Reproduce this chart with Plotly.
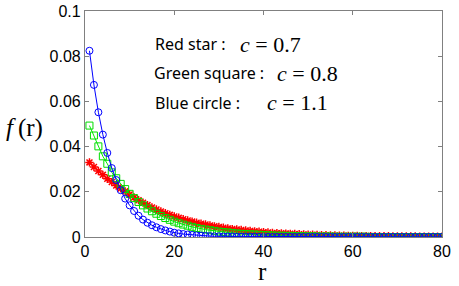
import plotly.graph_objects as go

r = list(range(1, 81))

red_star = [0.0330, 0.0310, 0.0292, 0.0275, 0.0258, 0.0243, 0.0228, 0.0215, 0.0202, 0.0188,
            0.0175, 0.0163, 0.0152, 0.0141, 0.0131, 0.0122, 0.0113, 0.0105, 0.0098, 0.0091,
            0.0085, 0.0079, 0.0073, 0.0068, 0.0063, 0.0059, 0.0055, 0.0051, 0.0047, 0.0044,
            0.0041, 0.0038, 0.0035, 0.0033, 0.0031, 0.0029, 0.0027, 0.0025, 0.0023, 0.0021,
            0.0020, 0.0018, 0.0017, 0.0016, 0.0015, 0.0014, 0.0013, 0.0012, 0.0011, 0.0010,
            0.0010, 0.0009, 0.0008, 0.0008, 0.0007, 0.0007, 0.0006, 0.0006, 0.0005, 0.0005,
            0.0005, 0.0004, 0.0004, 0.0004, 0.0003, 0.0003, 0.0003, 0.0003, 0.0002, 0.0002,
            0.0002, 0.0002, 0.0002, 0.0002, 0.0001, 0.0001, 0.0001, 0.0001, 0.0001, 0.0001]

green_square = [0.0493, 0.0449, 0.0401, 0.0357, 0.0324, 0.0286, 0.0260, 0.0235, 0.0212, 0.0191,
                0.0172, 0.0155, 0.0140, 0.0126, 0.0114, 0.0103, 0.0093, 0.0084, 0.0076, 0.0068,
                0.0061, 0.0055, 0.0050, 0.0045, 0.0040, 0.0036, 0.0033, 0.0030, 0.0027, 0.0024,
                0.0022, 0.0020, 0.0018, 0.0016, 0.0014, 0.0013, 0.0012, 0.0011, 0.0010, 0.0009,
                0.0008, 0.0007, 0.0006, 0.0006, 0.0005, 0.0005, 0.0004, 0.0004, 0.0003, 0.0003,
                0.0003, 0.0002, 0.0002, 0.0002, 0.0002, 0.0001, 0.0001, 0.0001, 0.0001, 0.0001,
                0.0001, 0.0001, 0.0001, 0.0000, 0.0000, 0.0000, 0.0000, 0.0000, 0.0000, 0.0000,
                0.0000, 0.0000, 0.0000, 0.0000, 0.0000, 0.0000, 0.0000, 0.0000, 0.0000, 0.0000]

blue_circle = [0.0824, 0.0673, 0.0552, 0.0453, 0.0372, 0.0305, 0.0252, 0.0207, 0.0170, 0.0140,
               0.0115, 0.0094, 0.0077, 0.0063, 0.0052, 0.0043, 0.0035, 0.0029, 0.0024, 0.0019,
               0.0016, 0.0013, 0.0011, 0.0009, 0.0007, 0.0006, 0.0005, 0.0004, 0.0003, 0.0003,
               0.0002, 0.0002, 0.0002, 0.0001, 0.0001, 0.0001, 0.0001, 0.0001, 0.0000, 0.0000,
               0.0000, 0.0000, 0.0000, 0.0000, 0.0000, 0.0000, 0.0000, 0.0000, 0.0000, 0.0000,
               0.0000, 0.0000, 0.0000, 0.0000, 0.0000, 0.0000, 0.0000, 0.0000, 0.0000, 0.0000,
               0.0000, 0.0000, 0.0000, 0.0000, 0.0000, 0.0000, 0.0000, 0.0000, 0.0000, 0.0000,
               0.0000, 0.0000, 0.0000, 0.0000, 0.0000, 0.0000, 0.0000, 0.0000, 0.0000, 0.0000]

x_ticks = [0, 20, 40, 60, 80]
y_ticks = [0, 0.02, 0.04, 0.06, 0.08, 0.1]
y_tick_text = ["0", "0.02", "0.04", "0.06", "0.08", "0.1"]

W, H = 459, 286
L, R, T, B = 85, 17, 11, 49
PW, PH = W - L - R, H - T - B


def px(x):
    return (x - L) / PW


def py(y):
    return (H - B - y) / PH


fig = go.Figure()
fig.add_trace(go.Scatter(x=r, y=red_star, mode="lines+markers",
                         line=dict(color="#ff0000", width=1),
                         marker=dict(symbol="asterisk-open", size=7, color="#ff0000",
                                     line=dict(color="#ff0000", width=1.5))))
fig.add_trace(go.Scatter(x=r, y=green_square, mode="lines+markers",
                         line=dict(color="#00ee00", width=1),
                         marker=dict(symbol="square-open", size=7, color="#00dd00",
                                     line=dict(color="#00dd00", width=1))))
fig.add_trace(go.Scatter(x=r, y=blue_circle, mode="lines+markers",
                         line=dict(color="#0000ff", width=1),
                         marker=dict(symbol="circle-open", size=7, color="#0000ff",
                                     line=dict(color="#0000ff", width=1))))

axis_common = dict(showline=True, linecolor="#808080", linewidth=1.2, mirror="ticks",
                   ticks="inside", ticklen=4, tickcolor="#808080", showgrid=False,
                   zeroline=False, automargin=False,
                   tickfont=dict(family="Liberation Sans, Arial", size=16, color="black"))

fig.update_layout(
    width=W, height=H,
    margin=dict(l=L, r=R, t=T, b=B, autoexpand=False),
    paper_bgcolor="white", plot_bgcolor="white",
    showlegend=False,
    xaxis=dict(range=[0, 80], tickvals=x_ticks, ticklabelstandoff=0, **axis_common),
    yaxis=dict(range=[0, 0.1], tickvals=y_ticks, ticktext=y_tick_text, **axis_common),
)

label_font = dict(family="Noto Sans, Liberation Sans, Arial", size=16, color="black")
math_font = dict(family="Liberation Serif, Times New Roman", size=22, color="black")

rows = [("Red star :", "<i>c</i> = 0.7", 44, 153, 238),
        ("Green square :", "<i>c</i> = 0.8", 73, 152, 275),
        ("Blue circle :", "<i>c</i> = 1.1", 103, 153, 265)]
for lab, math, yy, x1, x2 in rows:
    fig.add_annotation(text=lab, xref="paper", yref="paper", x=px(x1), y=py(yy),
                       xanchor="left", yanchor="middle", showarrow=False, font=label_font)
    fig.add_annotation(text=math, xref="paper", yref="paper", x=px(x2), y=py(yy),
                       xanchor="left", yanchor="middle", showarrow=False, font=math_font)

fig.add_annotation(text="<i>f</i>\u2009(r)", xref="paper", yref="paper", x=px(4), y=py(128),
                   xanchor="left", yanchor="middle", showarrow=False,
                   font=dict(family="Liberation Serif, Times New Roman", size=25, color="black"))
fig.add_annotation(text="r", xref="paper", yref="paper", x=px(262), y=py(271),
                   xanchor="center", yanchor="middle", showarrow=False,
                   font=dict(family="Liberation Serif, Times New Roman", size=25, color="black"))

fig.write_html("out.html", config={"displayModeBar": False},
               post_script="document.body.style.margin='0';document.body.style.overflow='hidden';")
